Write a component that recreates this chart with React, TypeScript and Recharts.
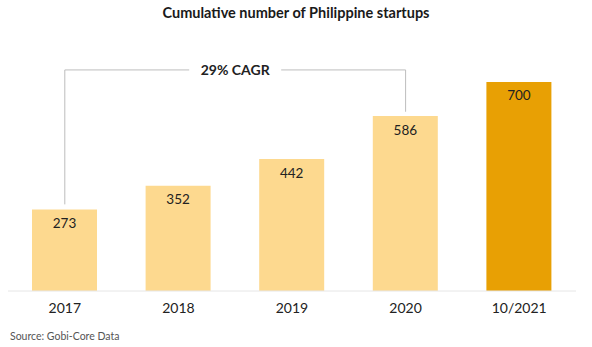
import { BarChart, Bar, XAxis, YAxis, Cell, LabelList, ReferenceLine } from "recharts";

const years = ["2017", "2018", "2019", "2020", "10/2021"];
const startups = [273, 352, 442, 586, 700];
const highlight = [false, false, false, false, true];

// bracket for the CAGR note, in data units
const cagrLabel = "29% CAGR";
const bracketTop = 740;
const bracketLeftEnd = 290;
const bracketRightEnd = 600;

const data = years.map((year, i) => ({ year, value: startups[i], hi: highlight[i] }));

const FONT = "Lato, 'Open Sans', sans-serif";

function CagrLabel(props: any) {
  const vb = props.viewBox || {};
  const cx = vb.x + vb.width / 2;
  const cy = vb.y;
  return (
    <g>
      <rect x={cx - 46} y={cy - 8} width={92} height={16} fill="#fff" />
      <text
        x={cx}
        y={cy}
        textAnchor="middle"
        dominantBaseline="central"
        fontFamily={FONT}
        fontWeight={700}
        fontSize={14}
        fill="#222"
      >
        {cagrLabel}
      </text>
    </g>
  );
}

export default function App() {
  return (
    <div
      style={{
        position: "absolute",
        left: 0,
        top: 0,
        width: 592,
        height: 347,
        background: "#fff",
        fontFamily: FONT,
      }}
    >
      <div
        style={{
          position: "absolute",
          top: 4,
          width: 592,
          textAlign: "center",
          fontWeight: 700,
          fontSize: 14.5,
          color: "#1a1a1a",
        }}
      >
        Cumulative number of Philippine startups
      </div>
      <BarChart
        width={592}
        height={347}
        data={data}
        margin={{ top: 52, right: 16, bottom: 30, left: 8 }}
      >
        <XAxis
          dataKey="year"
          tickLine={false}
          tickSize={0}
          tickMargin={12}
          axisLine={{ stroke: "#e6e6e6" }}
          tick={{ fill: "#222", fontSize: 14, fontFamily: FONT }}
          height={26}
        />
        <YAxis hide domain={[0, 800]} />
        <ReferenceLine
          segment={[
            { x: years[0], y: bracketTop },
            { x: years[0], y: bracketLeftEnd },
          ]}
          stroke="#bdbdbd"
        />
        <ReferenceLine
          segment={[
            { x: years[3], y: bracketTop },
            { x: years[3], y: bracketRightEnd },
          ]}
          stroke="#bdbdbd"
        />
        <ReferenceLine
          segment={[
            { x: years[0], y: bracketTop },
            { x: years[3], y: bracketTop },
          ]}
          stroke="#bdbdbd"
          label={<CagrLabel />}
        />
        <Bar dataKey="value" barSize={65} isAnimationActive={false}>
          {data.map((d, i) => (
            <Cell key={i} fill={d.hi ? "#e8a004" : "#fdd98f"} />
          ))}
          <LabelList
            dataKey="value"
            position="insideTop"
            offset={9}
            fill="#222"
            fontSize={13.5}
            fontFamily={FONT}
          />
        </Bar>
      </BarChart>
      <div
        style={{
          position: "absolute",
          left: 10,
          top: 330,
          fontSize: 10.5,
          color: "#555",
        }}
      >
        Source: Gobi-Core Data
      </div>
    </div>
  );
}
